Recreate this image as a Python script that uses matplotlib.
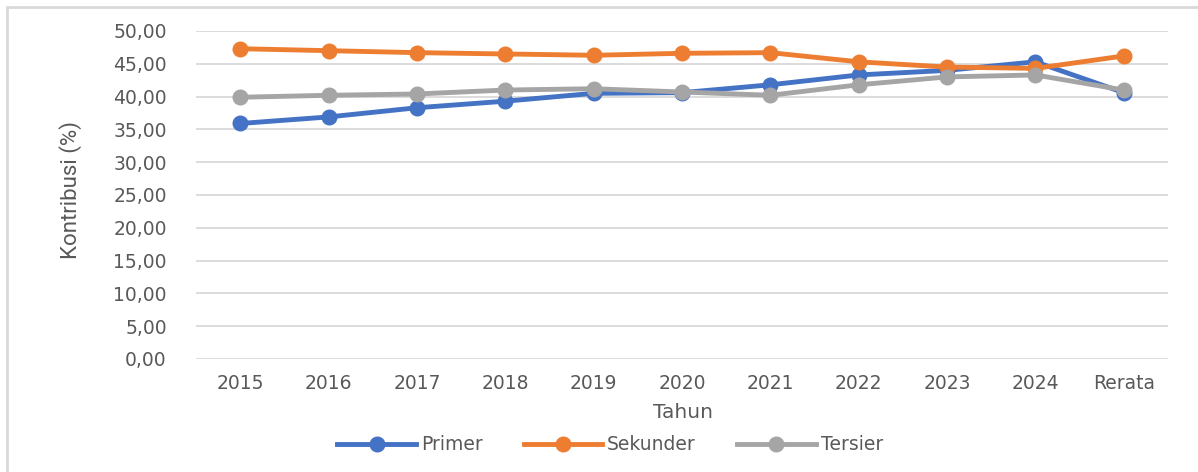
import numpy as np
import matplotlib.pyplot as plt
from matplotlib.patches import Rectangle

tahun = ['2015', '2016', '2017', '2018', '2019', '2020', '2021', '2022', '2023', '2024', 'Rerata']
primer = [35.9, 36.9, 38.3, 39.3, 40.5, 40.6, 41.8, 43.3, 44.0, 45.3, 40.6]
sekunder = [47.3, 47.0, 46.7, 46.5, 46.3, 46.6, 46.7, 45.3, 44.5, 44.3, 46.2]
tersier = [39.9, 40.2, 40.4, 41.0, 41.2, 40.7, 40.2, 41.8, 43.0, 43.3, 41.0]

y_ticks = np.arange(0, 51, 5)

text_color = '#595959'
grid_color = '#d9d9d9'
plt.rcParams['font.family'] = ['DejaVu Sans']

fig = plt.figure(figsize=(11.98, 4.72), dpi=100)
ax = fig.add_axes([196 / 1198, 1 - 359 / 472, (1168 - 196) / 1198, (359 - 31) / 472])

x = np.arange(len(tahun))
ax.plot(x, primer, color='#4472C4', linewidth=3.5, marker='o', markersize=10.5, label='Primer')
ax.plot(x, sekunder, color='#ED7D31', linewidth=3.5, marker='o', markersize=10.5, label='Sekunder')
ax.plot(x, tersier, color='#A5A5A5', linewidth=3.5, marker='o', markersize=10.5, label='Tersier')

ax.set_xlim(-0.5, len(tahun) - 0.5)
ax.set_ylim(0, 50)
ax.set_xticks(x)
ax.set_xticklabels(tahun)
ax.set_yticks(y_ticks)
ax.set_yticklabels([f'{v:.2f}'.replace('.', ',') for v in y_ticks])

ax.tick_params(axis='both', length=0, labelsize=13.5, labelcolor=text_color)
ax.tick_params(axis='y', pad=21)
ax.tick_params(axis='x', pad=11)

ax.grid(axis='y', color=grid_color, linewidth=1.3)
ax.set_axisbelow(True)
for s in ax.spines.values():
    s.set_visible(False)

fig.text(683 / 1198, 1 - 413 / 472, 'Tahun', ha='center', va='center',
         fontsize=14.5, color=text_color)
fig.text(71 / 1198, 1 - 190 / 472, 'Kontribusi (%)', ha='center', va='center',
         rotation=90, fontsize=16, color=text_color,
         family=['Roboto', 'DejaVu Sans'])

fig.legend(loc='center', bbox_to_anchor=(610 / 1198, 1 - 445 / 472), ncol=3,
           frameon=False, fontsize=13.5, labelcolor=text_color,
           handlelength=4.2, handletextpad=0.25, columnspacing=2.2)

fig.patches.append(Rectangle((7 / 1198, -0.1), 1.2, 1 - 7 / 472 + 0.1,
                             transform=fig.transFigure, fill=False,
                             edgecolor=grid_color, linewidth=2))

fig.savefig('out.png', dpi=100)
